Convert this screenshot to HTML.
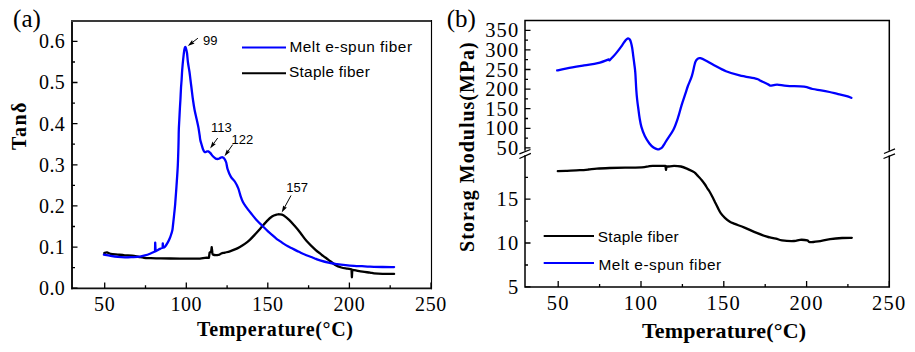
<!DOCTYPE html>
<html><head><meta charset="utf-8"><style>
html,body{margin:0;padding:0;background:#fff;width:915px;height:352px;overflow:hidden}
svg{display:block}
.tl{font-family:"Liberation Serif",serif;font-size:20px;fill:#000}
.pl{font-family:"Liberation Serif",serif;font-size:25px;fill:#000}
.tr{font-family:"Liberation Serif",serif;font-size:20.5px;fill:#000}
.ti{font-family:"Liberation Serif",serif;font-size:20px;font-weight:bold;fill:#000}
.lg{font-family:"Liberation Sans",sans-serif;font-size:15.4px;fill:#000}
.an{font-family:"Liberation Sans",sans-serif;font-size:13px;fill:#000}
</style></head><body>
<svg width="915" height="352" viewBox="0 0 915 352">
<path d="M72 20V289.2" stroke="#151515" stroke-width="2" fill="none"/>
<path d="M71 21H432" stroke="#3a3a3a" stroke-width="1.9" fill="none"/>
<path d="M431.5 20V289.2" stroke="#000" stroke-width="1.15" fill="none"/>
<path d="M71 288.3H432" stroke="#111" stroke-width="1.7" fill="none"/>
<path d="M104.7 288.3v-5.8 M145.5 288.3v-3 M186.3 288.3v-5.8 M227.1 288.3v-3 M267.8 288.3v-5.8 M308.6 288.3v-3 M349.4 288.3v-5.8 M390.2 288.3v-3 M431.0 288.3v-5.8 M72.0 288.2h5.5 M72.0 267.6h3 M72.0 247.1h5.5 M72.0 226.5h3 M72.0 205.9h5.5 M72.0 185.4h3 M72.0 164.8h5.5 M72.0 144.2h3 M72.0 123.7h5.5 M72.0 103.1h3 M72.0 82.5h5.5 M72.0 62.0h3 M72.0 41.4h5.5" stroke="#000" stroke-width="1.3" fill="none"/>
<text x="104.7" y="310.8" class="tl" text-anchor="middle" letter-spacing="0.6">50</text>
<text x="186.3" y="310.8" class="tl" text-anchor="middle" letter-spacing="0.6">100</text>
<text x="267.8" y="310.8" class="tl" text-anchor="middle" letter-spacing="0.6">150</text>
<text x="349.4" y="310.8" class="tl" text-anchor="middle" letter-spacing="0.6">200</text>
<text x="431.0" y="310.8" class="tl" text-anchor="middle" letter-spacing="0.6">250</text>
<text x="65.2" y="295.0" class="tl" text-anchor="end" letter-spacing="0.4">0.0</text>
<text x="65.2" y="253.9" class="tl" text-anchor="end" letter-spacing="0.4">0.1</text>
<text x="65.2" y="212.7" class="tl" text-anchor="end" letter-spacing="0.4">0.2</text>
<text x="65.2" y="171.6" class="tl" text-anchor="end" letter-spacing="0.4">0.3</text>
<text x="65.2" y="130.5" class="tl" text-anchor="end" letter-spacing="0.4">0.4</text>
<text x="65.2" y="89.3" class="tl" text-anchor="end" letter-spacing="0.4">0.5</text>
<text x="65.2" y="48.2" class="tl" text-anchor="end" letter-spacing="0.4">0.6</text>
<path d="M525.0 150.8V20.4H889.3V150.8" fill="none" stroke="#000" stroke-width="1.5"/>
<path d="M525.0 155.2V287.1H889.3V155.4" fill="none" stroke="#000" stroke-width="1.5"/>
<path d="M558.2 287.1v-6.2 M599.6 287.1v-3 M641.0 287.1v-6.2 M682.4 287.1v-3 M723.8 287.1v-6.2 M765.2 287.1v-3 M806.6 287.1v-6.2 M847.9 287.1v-3 M889.3 287.1v-6.2 M525.0 147.9h5.5 M525.0 138.1h3 M525.0 128.3h5.5 M525.0 118.5h3 M525.0 108.7h5.5 M525.0 98.9h3 M525.0 89.1h5.5 M525.0 79.3h3 M525.0 69.5h5.5 M525.0 59.7h3 M525.0 49.9h5.5 M525.0 40.1h3 M525.0 30.3h5.5 M525.0 286.9h5.5 M525.0 265.0h3 M525.0 243.0h5.5 M525.0 221.1h3 M525.0 199.2h5.5 M525.0 177.3h3 M519.4 153.8L530.5 149.5 M519.4 158.5L530.9 153.3 M884 153.5L895 148.9 M883.5 158.5L895 153.8" stroke="#000" stroke-width="1.3" fill="none"/>
<text x="558.2" y="309.7" class="tr" text-anchor="middle" letter-spacing="1.2">50</text>
<text x="641.0" y="309.7" class="tr" text-anchor="middle" letter-spacing="1.2">100</text>
<text x="723.8" y="309.7" class="tr" text-anchor="middle" letter-spacing="1.2">150</text>
<text x="806.6" y="309.7" class="tr" text-anchor="middle" letter-spacing="1.2">200</text>
<text x="889.3" y="309.7" class="tr" text-anchor="middle" letter-spacing="1.2">250</text>
<text x="519.5" y="155.0" class="tr" text-anchor="end" letter-spacing="1.2">50</text>
<text x="519.5" y="135.4" class="tr" text-anchor="end" letter-spacing="1.2">100</text>
<text x="519.5" y="115.8" class="tr" text-anchor="end" letter-spacing="1.2">150</text>
<text x="519.5" y="96.2" class="tr" text-anchor="end" letter-spacing="1.2">200</text>
<text x="519.5" y="76.6" class="tr" text-anchor="end" letter-spacing="1.2">250</text>
<text x="519.5" y="57.0" class="tr" text-anchor="end" letter-spacing="1.2">300</text>
<text x="519.5" y="37.4" class="tr" text-anchor="end" letter-spacing="1.2">350</text>
<text x="519.5" y="294.0" class="tr" text-anchor="end" letter-spacing="1.2">5</text>
<text x="519.5" y="250.1" class="tr" text-anchor="end" letter-spacing="1.2">10</text>
<text x="519.5" y="206.3" class="tr" text-anchor="end" letter-spacing="1.2">15</text>
<text x="13.1" y="26.8" class="pl">(a)</text>
<text x="446.7" y="26.8" class="pl">(b)</text>
<text x="197.1" y="336.2" class="ti" letter-spacing="0.64">Temperature(°C)</text>
<text x="642" y="337.7" class="ti" style="font-size:22px" letter-spacing="0.18">Temperature(°C)</text>
<text transform="translate(26 150.1) rotate(-90)" class="ti" letter-spacing="1.5">Tanδ</text>
<text transform="translate(474 251.9) rotate(-90)" class="ti" letter-spacing="1.0">Storag Modulus(MPa)</text>
<path d="M242 47.6H286" stroke="#00f" stroke-width="2"/>
<path d="M242 73.2H286" stroke="#000" stroke-width="2"/>
<text x="289.4" y="51.6" class="lg" letter-spacing="0.5">Melt e-spun fiber</text>
<text x="289" y="77.2" class="lg" letter-spacing="0.27">Staple fiber</text>
<path d="M543.7 236H594" stroke="#000" stroke-width="2"/>
<path d="M543.7 263.1H594" stroke="#00f" stroke-width="2"/>
<text x="597.8" y="241.9" class="lg" letter-spacing="0.27">Staple fiber</text>
<text x="598.5" y="269.8" class="lg" letter-spacing="0.5">Melt e-spun fiber</text>
<text x="203.1" y="44.9" class="an">99</text>
<path d="M197.9 38.2L192.7 42.2" stroke="#000" stroke-width="1"/><path d="M187.8 46.0L192.1 40.1L192.7 42.2L194.6 43.4Z" fill="#000"/>
<text x="211.1" y="132" class="an">113</text>
<path d="M217.7 138.0L213.7 143.5" stroke="#000" stroke-width="1"/><path d="M210.1 148.5L212.5 141.6L213.7 143.5L215.9 144.1Z" fill="#000"/>
<text x="231.6" y="144.3" class="an">122</text>
<path d="M232.7 144.6L228.0 151.3" stroke="#000" stroke-width="1"/><path d="M224.5 156.3L226.8 149.4L228.0 151.3L230.2 151.8Z" fill="#000"/>
<text x="286.3" y="191.8" class="an">157</text>
<path d="M291.0 195.5L284.7 207.1" stroke="#000" stroke-width="1"/><path d="M281.7 212.5L283.2 205.4L284.7 207.1L286.9 207.4Z" fill="#000"/>
<path d="M104.30 253.10C104.75 252.98 105.93 252.28 107.00 252.40C108.07 252.52 108.90 253.43 110.70 253.80C112.50 254.17 115.43 254.35 117.80 254.60C120.17 254.85 122.53 255.13 124.90 255.30C127.27 255.47 129.63 255.32 132.00 255.60C134.37 255.88 137.10 256.63 139.10 257.00C141.10 257.37 142.18 257.62 144.00 257.80C145.82 257.98 147.20 258.00 150.00 258.10C152.80 258.20 155.80 258.32 160.80 258.40C165.80 258.48 174.92 258.55 180.00 258.60C185.08 258.65 187.97 258.70 191.30 258.70C194.63 258.70 197.72 258.75 200.00 258.60C202.28 258.45 203.52 257.93 205.00 257.80C206.48 257.67 208.90 257.80 208.90 257.80C208.90 257.80 209.60 252.60 209.60 252.60C209.60 252.60 211.20 251.50 211.20 251.50C211.20 251.50 211.70 247.10 211.70 247.10C211.70 247.10 212.30 252.00 212.30 252.00C212.30 252.00 212.07 254.12 213.10 254.60C214.13 255.08 217.13 255.08 218.50 254.90C219.87 254.72 220.23 253.88 221.30 253.50C222.37 253.12 223.47 252.97 224.90 252.60C226.33 252.23 228.23 251.83 229.90 251.30C231.57 250.77 233.23 250.13 234.90 249.40C236.57 248.67 238.25 247.82 239.90 246.90C241.55 245.98 243.15 245.07 244.80 243.90C246.45 242.73 248.13 241.45 249.80 239.90C251.47 238.35 253.07 236.47 254.80 234.60C256.53 232.73 258.27 230.87 260.20 228.70C262.13 226.53 264.43 223.63 266.40 221.60C268.37 219.57 270.18 217.68 272.00 216.50C273.82 215.32 276.03 214.87 277.30 214.50C278.57 214.13 278.58 214.17 279.60 214.30C280.62 214.43 281.82 214.37 283.40 215.30C284.98 216.23 287.20 218.10 289.10 219.90C291.00 221.70 292.90 223.92 294.80 226.10C296.70 228.28 298.57 230.55 300.50 233.00C302.43 235.45 303.90 237.98 306.40 240.80C308.90 243.62 313.23 247.80 315.50 249.90C317.77 252.00 318.68 252.37 320.00 253.40C321.32 254.43 321.98 255.03 323.40 256.10C324.82 257.17 326.52 258.33 328.50 259.80C330.48 261.27 333.17 263.62 335.30 264.90C337.43 266.18 339.30 266.87 341.30 267.50C343.30 268.13 345.60 268.38 347.30 268.70C349.00 269.02 351.50 269.40 351.50 269.40C351.50 269.40 351.90 277.30 351.90 277.30C351.90 277.30 352.30 269.80 352.30 269.80C352.30 269.80 354.08 270.08 355.80 270.40C357.52 270.72 360.23 271.33 362.60 271.70C364.97 272.07 368.08 272.33 370.00 272.60C371.92 272.87 372.00 273.10 374.10 273.30C376.20 273.50 379.27 273.70 382.60 273.80C385.93 273.90 392.18 273.88 394.10 273.90" fill="none" stroke="#000" stroke-width="2.3" stroke-linejoin="round" stroke-linecap="round"/>
<path d="M103.90 254.60C105.03 254.80 108.38 255.43 110.70 255.80C113.02 256.17 115.43 256.55 117.80 256.80C120.17 257.05 122.53 257.25 124.90 257.30C127.27 257.35 129.48 257.22 132.00 257.10C134.52 256.98 137.83 256.88 140.00 256.60C142.17 256.32 143.33 255.88 145.00 255.40C146.67 254.92 148.33 254.35 150.00 253.70C151.67 253.05 155.00 251.50 155.00 251.50C155.00 251.50 155.20 242.60 155.20 242.60C155.20 242.60 155.60 251.30 155.60 251.30C155.60 251.30 157.27 250.40 158.00 250.00C158.73 249.60 159.23 249.27 160.00 248.90C160.77 248.53 162.60 247.80 162.60 247.80C162.60 247.80 162.80 243.30 162.80 243.30C162.80 243.30 163.10 247.60 163.10 247.60C163.10 247.60 164.22 247.57 165.00 246.70C165.78 245.83 166.97 243.88 167.80 242.40C168.63 240.92 169.40 239.27 170.00 237.80C170.60 236.33 171.00 234.90 171.40 233.60C171.80 232.30 172.13 231.43 172.40 230.00C172.67 228.57 172.70 227.67 173.00 225.00C173.30 222.33 173.83 217.52 174.20 214.00C174.57 210.48 174.82 208.57 175.20 203.90C175.58 199.23 176.07 192.38 176.50 186.00C176.93 179.62 177.47 172.53 177.80 165.60C178.13 158.67 178.33 150.33 178.50 144.40C178.67 138.47 178.67 134.07 178.80 130.00C178.93 125.93 179.13 123.33 179.30 120.00C179.47 116.67 179.62 113.33 179.80 110.00C179.98 106.67 180.20 103.67 180.40 100.00C180.60 96.33 180.80 91.33 181.00 88.00C181.20 84.67 181.40 83.00 181.60 80.00C181.80 77.00 181.93 73.50 182.20 70.00C182.47 66.50 182.85 62.33 183.20 59.00C183.55 55.67 183.98 52.00 184.30 50.00C184.62 48.00 184.82 47.25 185.10 47.00C185.38 46.75 185.68 47.50 186.00 48.50C186.32 49.50 186.68 50.75 187.00 53.00C187.32 55.25 187.48 58.83 187.90 62.00C188.32 65.17 189.07 69.00 189.50 72.00C189.93 75.00 190.17 77.33 190.50 80.00C190.83 82.67 191.08 84.67 191.50 88.00C191.92 91.33 192.48 96.33 193.00 100.00C193.52 103.67 194.00 106.83 194.60 110.00C195.20 113.17 195.97 116.10 196.60 119.00C197.23 121.90 197.90 124.73 198.40 127.40C198.90 130.07 199.28 132.90 199.60 135.00C199.92 137.10 199.98 138.45 200.30 140.00C200.62 141.55 201.05 142.77 201.50 144.30C201.95 145.83 202.47 147.90 203.00 149.20C203.53 150.50 204.12 151.70 204.70 152.10C205.28 152.50 205.90 151.72 206.50 151.60C207.10 151.48 207.65 151.15 208.30 151.40C208.95 151.65 209.63 152.28 210.40 153.10C211.17 153.92 212.02 155.38 212.90 156.30C213.78 157.22 214.82 158.17 215.70 158.60C216.58 159.03 217.37 159.05 218.20 158.90C219.03 158.75 219.98 157.97 220.70 157.70C221.42 157.43 221.90 157.15 222.50 157.30C223.10 157.45 223.68 157.73 224.30 158.60C224.92 159.47 225.65 160.73 226.20 162.50C226.75 164.27 226.83 166.83 227.60 169.20C228.37 171.57 229.55 174.57 230.80 176.70C232.05 178.83 233.85 180.05 235.10 182.00C236.35 183.95 237.38 186.05 238.30 188.40C239.22 190.75 239.85 193.87 240.60 196.10C241.35 198.33 241.95 200.08 242.80 201.80C243.65 203.52 244.27 204.40 245.70 206.40C247.13 208.40 249.52 211.43 251.40 213.80C253.28 216.17 255.20 218.62 257.00 220.60C258.80 222.58 260.37 223.90 262.20 225.70C264.03 227.50 266.37 229.88 268.00 231.40C269.63 232.92 270.67 233.65 272.00 234.80C273.33 235.95 274.68 237.25 276.00 238.30C277.32 239.35 278.58 240.17 279.90 241.10C281.22 242.03 282.57 243.03 283.90 243.90C285.23 244.77 286.57 245.57 287.90 246.30C289.23 247.03 290.32 247.50 291.90 248.30C293.48 249.10 295.93 250.37 297.40 251.10C298.87 251.83 299.20 252.02 300.70 252.70C302.20 253.38 304.52 254.43 306.40 255.20C308.28 255.97 310.40 256.68 312.00 257.30C313.60 257.92 314.67 258.38 316.00 258.90C317.33 259.42 317.92 259.77 320.00 260.40C322.08 261.03 325.67 262.08 328.50 262.70C331.33 263.32 334.15 263.70 337.00 264.10C339.85 264.50 342.75 264.82 345.60 265.10C348.45 265.38 351.37 265.62 354.10 265.80C356.83 265.98 359.35 266.07 362.00 266.20C364.65 266.33 366.57 266.47 370.00 266.60C373.43 266.73 378.58 266.92 382.60 267.00C386.62 267.08 392.18 267.08 394.10 267.10" fill="none" stroke="#00f" stroke-width="2.3" stroke-linejoin="round" stroke-linecap="round"/>
<path d="M557.80 171.20C559.33 171.13 563.33 170.97 567.00 170.80C570.67 170.63 576.23 170.42 579.80 170.20C583.37 169.98 585.55 169.77 588.40 169.50C591.25 169.23 593.35 168.85 596.90 168.60C600.45 168.35 605.02 168.17 609.70 168.00C614.38 167.83 619.65 167.70 625.00 167.60C630.35 167.50 637.88 167.62 641.80 167.40C645.72 167.18 646.67 166.55 648.50 166.30C650.33 166.05 649.98 165.97 652.80 165.90C655.62 165.83 665.40 165.90 665.40 165.90C665.40 165.90 666.00 169.90 666.00 169.90C666.00 169.90 666.60 166.30 666.60 166.30C666.60 166.30 666.85 166.57 668.10 166.50C669.35 166.43 671.97 165.90 674.10 165.90C676.23 165.90 678.77 166.05 680.90 166.50C683.03 166.95 684.90 167.75 686.90 168.60C688.90 169.45 691.55 170.90 692.90 171.60C694.25 172.30 694.15 172.07 695.00 172.80C695.85 173.53 696.87 174.77 698.00 176.00C699.13 177.23 700.63 178.78 701.80 180.20C702.97 181.62 704.05 183.10 705.00 184.50C705.95 185.90 706.75 187.43 707.50 188.60C708.25 189.77 708.67 190.10 709.50 191.50C710.33 192.90 711.60 195.27 712.50 197.00C713.40 198.73 714.00 200.08 714.90 201.90C715.80 203.72 716.90 205.98 717.90 207.90C718.90 209.82 719.73 211.75 720.90 213.40C722.07 215.05 723.40 216.40 724.90 217.80C726.40 219.20 728.25 220.78 729.90 221.80C731.55 222.82 732.37 222.93 734.80 223.90C737.23 224.87 740.85 226.10 744.50 227.60C748.15 229.10 752.95 231.38 756.70 232.90C760.45 234.42 764.78 235.95 767.00 236.70C769.22 237.45 768.50 237.08 770.00 237.40C771.50 237.72 774.00 238.10 776.00 238.60C778.00 239.10 779.00 240.00 782.00 240.40C785.00 240.80 791.00 241.10 794.00 241.00C797.00 240.90 797.78 239.90 800.00 239.80C802.22 239.70 805.68 240.00 807.30 240.40C808.92 240.80 807.90 242.03 809.70 242.20C811.50 242.37 814.70 241.90 818.10 241.40C821.50 240.90 826.10 239.77 830.10 239.20C834.10 238.63 838.48 238.23 842.10 238.00C845.72 237.77 850.18 237.83 851.80 237.80" fill="none" stroke="#000" stroke-width="2.3" stroke-linejoin="round" stroke-linecap="round"/>
<path d="M557.20 70.40C558.83 70.05 562.52 69.13 567.00 68.30C571.48 67.47 578.98 66.25 584.10 65.40C589.22 64.55 593.58 64.20 597.70 63.20C601.82 62.20 608.80 59.40 608.80 59.40C608.80 59.40 609.50 60.40 609.50 60.40C609.50 60.40 611.75 58.18 613.00 56.80C614.25 55.42 615.48 54.02 617.00 52.10C618.52 50.18 620.67 47.28 622.10 45.30C623.53 43.32 624.62 41.37 625.60 40.20C626.58 39.03 627.30 38.42 628.00 38.30C628.70 38.18 629.30 38.80 629.80 39.50C630.30 40.20 630.60 41.08 631.00 42.50C631.40 43.92 631.83 45.82 632.20 48.00C632.57 50.18 632.85 52.93 633.20 55.60C633.55 58.27 633.95 61.17 634.30 64.00C634.65 66.83 634.97 68.27 635.30 72.60C635.63 76.93 635.98 85.43 636.30 90.00C636.62 94.57 636.87 96.92 637.20 100.00C637.53 103.08 637.90 105.50 638.30 108.50C638.70 111.50 639.08 114.93 639.60 118.00C640.12 121.07 640.53 123.88 641.40 126.90C642.27 129.92 643.47 133.33 644.80 136.10C646.13 138.87 647.95 141.60 649.40 143.50C650.85 145.40 652.12 146.52 653.50 147.50C654.88 148.48 656.62 149.18 657.70 149.40C658.78 149.62 659.23 149.17 660.00 148.80C660.77 148.43 661.55 148.03 662.30 147.20C663.05 146.37 663.73 145.03 664.50 143.80C665.27 142.57 665.42 142.15 666.90 139.80C668.38 137.45 671.55 133.38 673.40 129.70C675.25 126.02 676.62 121.85 678.00 117.70C679.38 113.55 680.47 108.80 681.70 104.80C682.93 100.80 684.37 96.83 685.40 93.70C686.43 90.57 686.82 88.98 687.90 86.00C688.98 83.02 690.67 79.78 691.90 75.80C693.13 71.82 694.30 64.97 695.30 62.10C696.30 59.23 697.05 59.25 697.90 58.60C698.75 57.95 699.12 57.90 700.40 58.20C701.68 58.50 703.32 59.23 705.60 60.40C707.88 61.57 710.70 63.40 714.10 65.20C717.50 67.00 721.75 69.50 726.00 71.20C730.25 72.90 734.48 74.13 739.60 75.40C744.72 76.67 753.30 77.95 756.70 78.80C760.10 79.65 758.02 79.53 760.00 80.50C761.98 81.47 766.88 83.73 768.60 84.60C770.32 85.47 768.88 85.70 770.30 85.70C771.72 85.70 774.32 84.57 777.10 84.60C779.88 84.63 782.50 85.55 787.00 85.90C791.50 86.25 799.83 86.18 804.10 86.70C808.37 87.22 809.77 88.40 812.60 89.00C815.43 89.60 818.27 89.80 821.10 90.30C823.93 90.80 826.77 91.37 829.60 92.00C832.43 92.63 835.25 93.42 838.10 94.10C840.95 94.78 844.48 95.48 846.70 96.10C848.92 96.72 850.62 97.52 851.40 97.80" fill="none" stroke="#00f" stroke-width="2.3" stroke-linejoin="round" stroke-linecap="round"/>
</svg>
</body></html>
